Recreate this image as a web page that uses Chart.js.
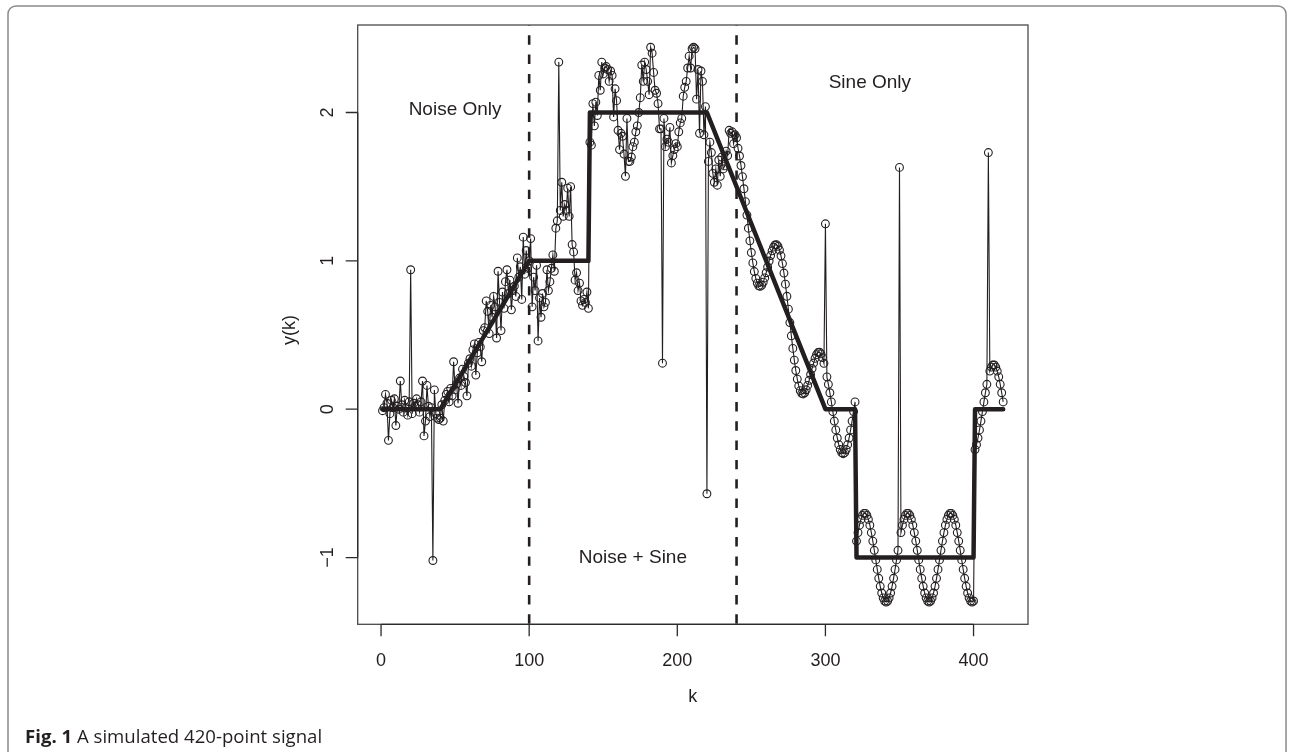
<!DOCTYPE html>
<html>
<head>
<meta charset="utf-8">
<title>A simulated 420-point signal</title>
<script src="https://cdn.jsdelivr.net/npm/chart.js@4.4.1/dist/chart.umd.min.js"></script>
<style>
  html, body { margin: 0; padding: 0; background: #fff; }
  canvas { display: block; }
</style>
</head>
<body>
<canvas id="signalChart" width="1292" height="752"></canvas>
<script>
const signalValues = [
  -0.01, 0.01, 0.10, 0.04, -0.21, -0.03, 0.06, 0.01, 0.07, -0.11,
  0.02, 0.00, 0.19, 0.03, -0.02, 0.06, 0.01, -0.04, 0.05, 0.94,
  -0.03, 0.04, 0.02, 0.07, 0.03, -0.02, 0.05, 0.19, -0.18, -0.08,
  0.16, 0.02, -0.05, 0.01, -1.02, 0.13, -0.03, -0.06, -0.07, -0.06,
  0.03, -0.08, 0.06, 0.10, 0.12, 0.05, 0.14, 0.09, 0.32, 0.13,
  0.17, 0.04, 0.21, 0.16, 0.27, 0.22, 0.18, 0.09, 0.31, 0.34,
  0.29, 0.40, 0.44, 0.23, 0.38, 0.45, 0.42, 0.32, 0.53, 0.55,
  0.73, 0.66, 0.51, 0.70, 0.62, 0.76, 0.69, 0.48, 0.93, 0.72,
  0.53, 0.79, 0.68, 0.86, 0.94, 0.78, 0.87, 0.67, 0.80, 0.83,
  0.76, 1.02, 0.89, 0.96, 0.74, 1.16, 0.91, 1.07, 0.95, 1.00,
  1.15, 0.69, 0.89, 0.80, 0.97, 0.46, 0.75, 0.62, 0.78, 0.69,
  0.72, 0.94, 0.80, 0.86, 0.95, 1.04, 0.93, 1.22, 1.27, 2.34,
  1.34, 1.53, 1.30, 1.38, 1.34, 1.49, 1.30, 1.50, 1.11, 1.06,
  0.87, 0.92, 0.80, 0.85, 0.73, 0.70, 0.74, 0.72, 0.79, 0.68,
  1.80, 1.78, 2.06, 1.91, 2.07, 1.98, 2.25, 2.15, 2.34, 2.26,
  2.30, 2.31, 2.29, 2.21, 2.28, 2.25, 1.97, 2.16, 2.08, 1.88,
  1.75, 1.86, 1.84, 1.72, 1.57, 1.96, 1.67, 1.67, 1.70, 1.77,
  1.80, 1.87, 1.91, 2.00, 2.10, 2.32, 2.21, 2.34, 2.29, 2.21,
  2.12, 2.44, 2.40, 2.27, 2.15, 2.13, 2.06, 1.89, 1.89, 0.31,
  1.96, 1.77, 1.82, 1.80, 1.90, 1.66, 1.71, 1.75, 1.79, 1.77,
  1.87, 1.93, 1.96, 2.11, 2.17, 2.21, 2.30, 2.38, 2.30, 2.43,
  2.44, 2.43, 2.09, 2.29, 1.86, 2.28, 2.21, 1.85, 2.04, -0.57,
  1.67, 1.80, 1.73, 1.59, 1.53, 1.62, 1.51, 1.68, 1.57, 1.70,
  1.62, 1.64, 1.74, 1.71, 1.88, 1.86, 1.87, 1.79, 1.85, 1.83,
  1.759, 1.707, 1.643, 1.568, 1.486, 1.399, 1.309, 1.22, 1.135, 1.056,
  0.986, 0.928, 0.882, 0.85, 0.832, 0.828, 0.836, 0.856, 0.885, 0.92,
  0.959, 0.999, 1.036, 1.068, 1.093, 1.107, 1.109, 1.098, 1.073, 1.034,
  0.982, 0.918, 0.843, 0.761, 0.674, 0.584, 0.495, 0.41, 0.331, 0.261,
  0.203, 0.157, 0.125, 0.107, 0.103, 0.111, 0.131, 0.16, 0.195, 0.234,
  0.274, 0.311, 0.343, 0.368, 0.382, 0.384, 0.373, 0.348, 0.309, 1.25,
  0.218, 0.168, 0.111, 0.049, -0.016, -0.08, -0.14, -0.194, -0.239, -0.272,
  -0.293, -0.3, -0.293, -0.272, -0.239, -0.194, -0.14, -0.08, -0.016, 0.049,
  -0.889, -0.832, -0.782, -0.743, -0.716, -0.702, -0.702, -0.716, -0.743, -0.782,
  -0.832, -0.889, -0.951, -1.016, -1.08, -1.14, -1.194, -1.239, -1.272, -1.293,
  -1.3, -1.293, -1.272, -1.239, -1.194, -1.14, -1.08, -1.016, -0.951, 1.63,
  -0.832, -0.782, -0.743, -0.716, -0.702, -0.702, -0.716, -0.743, -0.782, -0.832,
  -0.889, -0.951, -1.016, -1.08, -1.14, -1.194, -1.239, -1.272, -1.293, -1.3,
  -1.293, -1.272, -1.239, -1.194, -1.14, -1.08, -1.016, -0.951, -0.889, -0.832,
  -0.782, -0.743, -0.716, -0.702, -0.702, -0.716, -0.743, -0.782, -0.832, -0.889,
  -0.951, -1.016, -1.08, -1.14, -1.194, -1.239, -1.272, -1.293, -1.3, -1.293,
  -0.272, -0.239, -0.194, -0.14, -0.08, -0.016, 0.049, 0.111, 0.168, 1.73,
  0.257, 0.284, 0.298, 0.298, 0.284, 0.257, 0.218, 0.168, 0.111, 0.049
];

// underlying piecewise signal (thick line)
const trueK = [1, 40, 100, 140, 141, 220, 300, 320, 321, 400, 401, 420];
const trueY = [0, 0, 1, 1, 2, 2, 0, 0, -1, -1, 0, 0];

// region boundaries and labels
const regionBreaks = [100, 240];
const regionLabels = [
  { k: 50, y: 2.02, text: 'Noise Only' },
  { k: 170, y: -1.0, text: 'Noise + Sine' },
  { k: 330, y: 2.2, text: 'Sine Only' }
];

const xTicks = [0, 100, 200, 300, 400];
const yTicks = [-1, 0, 1, 2];
const yTickLabels = ['\u22121', '0', '1', '2'];

const kValues = signalValues.map((_, i) => i + 1);
const ink = '#231f20';


const rStylePlugin = {
  id: 'rStyle',
  beforeDraw(chart) {
    const ctx = chart.ctx;
    ctx.save();
    ctx.fillStyle = '#fff';
    ctx.fillRect(0, 0, chart.width, chart.height);

    // figure frame
    ctx.strokeStyle = '#8a8a8a';
    ctx.lineWidth = 1.5;
    ctx.beginPath();
    ctx.moveTo(8, chart.height + 2);
    ctx.lineTo(8, 14);
    ctx.arcTo(8, 6, 16, 6, 8);
    ctx.lineTo(1278, 6);
    ctx.arcTo(1286, 6, 1286, 14, 8);
    ctx.lineTo(1286, chart.height + 2);
    ctx.stroke();

    // caption
    ctx.fillStyle = ink;
    ctx.textBaseline = 'middle';
    ctx.textAlign = 'left';
    ctx.font = 'bold 18.6px "Open Sans"';
    ctx.fillText('Fig. 1', 25, 738);
    const w = ctx.measureText('Fig. 1').width;
    ctx.font = '18.6px "Open Sans"';
    ctx.fillText(' A simulated 420-point signal', 25 + w, 738);
    ctx.restore();
  },
  afterDatasetsDraw(chart) {
    const ctx = chart.ctx;
    const area = chart.chartArea;
    const xs = chart.scales.x;
    const ys = chart.scales.y;
    ctx.save();

    // dashed region boundaries
    ctx.beginPath();
    ctx.rect(area.left, area.top, area.right - area.left, area.bottom - area.top);
    ctx.clip();
    ctx.strokeStyle = ink;
    ctx.lineWidth = 2.6;
    ctx.setLineDash([9.4, 9.9]);
    ctx.lineDashOffset = 9;
    regionBreaks.forEach(k => {
      const px = xs.getPixelForValue(k);
      ctx.beginPath();
      ctx.moveTo(px, area.top);
      ctx.lineTo(px, area.bottom);
      ctx.stroke();
    });
    ctx.restore();

    ctx.save();
    // box
    ctx.strokeStyle = '#4a4a4a';
    ctx.lineWidth = 1.3;
    ctx.strokeRect(area.left, area.top, area.right - area.left, area.bottom - area.top);

    // axes
    ctx.strokeStyle = '#2b2b2b';
    ctx.lineWidth = 1.3;
    const x0 = xs.getPixelForValue(xTicks[0]);
    const x1 = xs.getPixelForValue(xTicks[xTicks.length - 1]);
    ctx.beginPath();
    ctx.moveTo(x0, area.bottom);
    ctx.lineTo(x1, area.bottom);
    const y0 = ys.getPixelForValue(yTicks[0]);
    const y1 = ys.getPixelForValue(yTicks[yTicks.length - 1]);
    ctx.moveTo(area.left, y0);
    ctx.lineTo(area.left, y1);
    xTicks.forEach(v => {
      const px = xs.getPixelForValue(v);
      ctx.moveTo(px, area.bottom);
      ctx.lineTo(px, area.bottom + 12);
    });
    yTicks.forEach(v => {
      const py = ys.getPixelForValue(v);
      ctx.moveTo(area.left, py);
      ctx.lineTo(area.left - 12, py);
    });
    ctx.stroke();

    // tick labels
    ctx.fillStyle = ink;
    ctx.font = '18px "Liberation Sans", Arial, sans-serif';
    ctx.textAlign = 'center';
    ctx.textBaseline = 'middle';
    xTicks.forEach(v => {
      ctx.fillText(String(v), xs.getPixelForValue(v), 661);
    });
    yTicks.forEach((v, i) => {
      ctx.save();
      ctx.translate(328, ys.getPixelForValue(v));
      ctx.rotate(-Math.PI / 2);
      ctx.fillText(yTickLabels[i], 0, 0);
      ctx.restore();
    });

    // axis titles
    ctx.fillText('k', (area.left + area.right) / 2, 697);
    ctx.save();
    ctx.translate(290, 330);
    ctx.rotate(-Math.PI / 2);
    ctx.fillText('y(k)', 0, 0);
    ctx.restore();

    // region annotations
    ctx.font = '19px "Liberation Sans", Arial, sans-serif';
    regionLabels.forEach(r => {
      ctx.fillText(r.text, xs.getPixelForValue(r.k), ys.getPixelForValue(r.y));
    });
    ctx.restore();
  }
};


function initializeChart() {
  const ctx = document.getElementById('signalChart').getContext('2d');

  new Chart(ctx, {
    type: 'line',
    data: {
      datasets: [
        {
          label: 'true signal',
          data: trueK.map((k, i) => ({ x: k, y: trueY[i] })),
          borderColor: ink,
          borderWidth: 4.5,
          borderCapStyle: 'round',
          borderJoinStyle: 'round',
          pointRadius: 0,
          fill: false,
          tension: 0
        },
        {
          label: 'y(k)',
          data: kValues.map((k, i) => ({ x: k, y: signalValues[i] })),
          borderColor: ink,
          borderWidth: 1.1,
          pointRadius: 3.9,
          pointBorderWidth: 1.1,
          pointBorderColor: ink,
          pointBackgroundColor: 'rgba(0,0,0,0)',
          fill: false,
          tension: 0
        }
      ]
    },
    options: {
      responsive: false,
      animation: false,
      events: [],
      layout: {
        padding: { left: 357.7, top: 25, right: 264, bottom: 127.7 }
      },
      plugins: {
        legend: { display: false },
        tooltip: { enabled: false }
      },
      scales: {
        x: { type: 'linear', min: -15.76, max: 436.76, display: false },
        y: { type: 'linear', min: -1.45, max: 2.59, display: false }
      }
    },
    plugins: [rStylePlugin]
  });
}

document.addEventListener('DOMContentLoaded', initializeChart);
</script>
</body>
</html>
